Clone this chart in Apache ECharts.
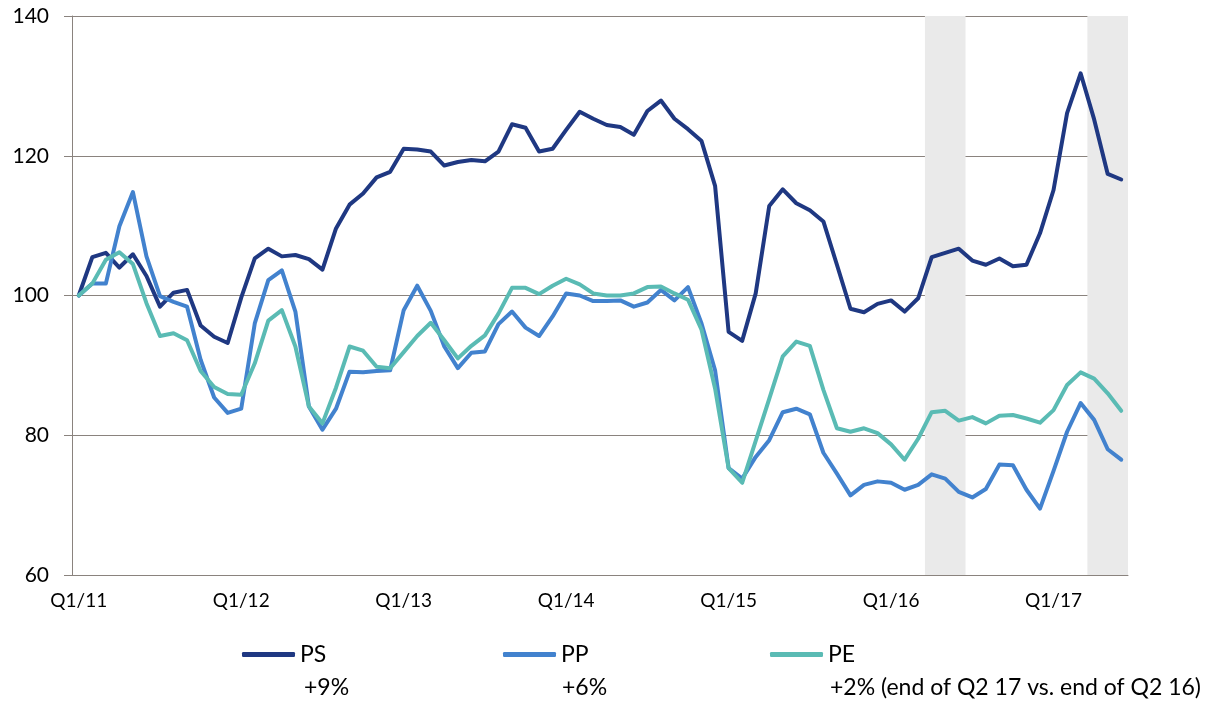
<!DOCTYPE html>
<html>
<head>
<meta charset="utf-8">
<script src="https://cdn.jsdelivr.net/npm/echarts@6/dist/echarts.min.js"></script>
<style>
  html, body { margin: 0; padding: 0; background: #fff; }
  #chart { width: 1216px; height: 703px; }
</style>
</head>
<body>
<div id="chart"></div>
<script>
// monthly index, Jan 2011 = 100 (Jan 2011 .. Jun 2017)
var months = [];
for (var y = 2011; y <= 2017; y++) {
  for (var m = 1; m <= 12; m++) {
    if (y === 2017 && m > 6) break;
    months.push(y + '-' + (m < 10 ? '0' + m : m));
  }
}

var seriesNames = ['PS', 'PP', 'PE'];
var seriesColors = ['#1f3882', '#4282ce', '#5abbb4'];

var ps = [100, 105.5, 106.1, 104.0, 105.9, 102.8, 98.4, 100.4, 100.8, 95.7, 94.1, 93.2,
  99.7, 105.3, 106.7, 105.6, 105.8, 105.2, 103.7, 109.6, 113.0, 114.6, 116.9, 117.7,
  121.0, 120.9, 120.6, 118.6, 119.1, 119.4, 119.2, 120.6, 124.5, 124.0, 120.6, 121.0,
  123.7, 126.3, 125.3, 124.4, 124.1, 123.0, 126.4, 127.9, 125.3, 123.8, 122.1, 115.7,
  94.8, 93.5, 100.3, 112.8, 115.2, 113.2, 112.2, 110.6, 104.4, 98.1, 97.6, 98.8,
  99.3, 97.7, 99.6, 105.5, 106.1, 106.7, 105.0, 104.4, 105.3, 104.2, 104.4, 108.9,
  115.1, 126.1, 131.8, 125.2, 117.4, 116.6];

var pp = [100, 101.7, 101.7, 109.9, 114.8, 105.6, 99.9, 99.1, 98.4, 90.8, 85.4, 83.2,
  83.8, 96.0, 102.2, 103.6, 97.7, 84.1, 80.8, 83.8, 89.1, 89.0, 89.2, 89.3,
  97.9, 101.4, 97.8, 92.7, 89.6, 91.8, 92.0, 95.9, 97.7, 95.4, 94.2, 97.0,
  100.3, 100.0, 99.2, 99.2, 99.3, 98.4, 99.0, 100.8, 99.3, 101.2, 96.0, 89.3,
  75.3, 73.8, 76.9, 79.3, 83.3, 83.8, 83.0, 77.5, 74.5, 71.4, 72.9, 73.4,
  73.2, 72.2, 72.9, 74.4, 73.8, 71.9, 71.1, 72.3, 75.8, 75.7, 72.2, 69.5,
  74.9, 80.5, 84.6, 82.2, 78.0, 76.5];

var pe = [100, 101.7, 105.1, 106.2, 104.5, 98.9, 94.2, 94.6, 93.6, 89.2, 86.9, 85.9,
  85.8, 90.3, 96.4, 97.9, 92.7, 84.1, 81.7, 86.8, 92.7, 92.1, 89.8, 89.6,
  91.9, 94.2, 96.1, 93.6, 91.0, 92.8, 94.3, 97.4, 101.1, 101.1, 100.2, 101.4,
  102.4, 101.6, 100.3, 100.0, 100.0, 100.3, 101.2, 101.3, 100.3, 99.4, 95.1, 86.7,
  75.3, 73.2, 79.2, 85.2, 91.3, 93.4, 92.8, 86.5, 81.0, 80.5, 81.0, 80.3,
  78.7, 76.5, 79.5, 83.3, 83.5, 82.1, 82.6, 81.7, 82.8, 82.9, 82.4, 81.8,
  83.6, 87.2, 89.0, 88.1, 86.0, 83.5];

// change end of Q2 17 vs end of Q2 16
var changeLabels = ['+9%', '+6%', '+2% (end of Q2 17 vs. end of Q2 16)'];

// shaded quarters (Q2 16, Q2 17): first and last month
var shadedQuarters = [['2016-04', '2016-06'], ['2017-04', '2017-06']];

var yTicks = { min: 60, max: 140, step: 20 };

var font = 'Lato, "DejaVu Sans", sans-serif';
var gridColor = '#8a837e';
var legendLefts = [242, 503, 770];
var changeLefts = [304, 562, 830];

var chart = echarts.init(document.getElementById('chart'));

var series = [ps, pp, pe].map(function (vals, i) {
  return {
    name: seriesNames[i],
    type: 'line',
    data: vals,
    symbol: 'none',
    z: 3,
    lineStyle: { width: 4, color: seriesColors[i], join: 'round', cap: 'round' },
    itemStyle: { color: seriesColors[i] }
  };
});

// shading on a hidden month-position axis (band edges)
series.push({
  type: 'line',
  xAxisIndex: 1,
  data: [],
  z: 1,
  silent: true,
  markArea: {
    silent: true,
    itemStyle: { color: '#eaeaea' },
    data: shadedQuarters.map(function (q) {
      return [{ xAxis: months.indexOf(q[0]) }, { xAxis: months.indexOf(q[1]) + 1 }];
    })
  }
});

chart.setOption({
  animation: false,
  grid: { left: 72, right: 88, top: 16, bottom: 128 },
  legend: seriesNames.map(function (name, i) {
    return {
      data: [name],
      left: legendLefts[i],
      top: 643,
      padding: 0,
      icon: 'roundRect',
      itemWidth: 53,
      itemHeight: 5,
      selectedMode: false,
      textStyle: { fontSize: 23, fontFamily: font, color: '#000' }
    };
  }),
  graphic: changeLabels.map(function (t, i) {
    return {
      type: 'text',
      left: changeLefts[i],
      top: 676,
      style: { text: t, font: '23px ' + font, fill: '#000' }
    };
  }),
  xAxis: [{
    type: 'category',
    data: months,
    boundaryGap: true,
    axisLine: { lineStyle: { color: gridColor, width: 1 } },
    axisTick: { interval: 2, length: 6, lineStyle: { color: gridColor } },
    axisLabel: {
      interval: 11,
      margin: 16,
      fontSize: 19,
      fontFamily: font,
      color: '#000',
      formatter: function (v) {
        var p = v.split('-');
        return p[1] === '01' ? 'Q1/' + p[0].slice(2) : '';
      }
    },
    splitLine: { show: false }
  }, {
    type: 'value',
    min: 0,
    max: months.length,
    show: false
  }],
  yAxis: {
    type: 'value',
    min: yTicks.min,
    max: yTicks.max,
    interval: yTicks.step,
    axisLine: { show: true, lineStyle: { color: gridColor } },
    axisTick: { show: true, length: 8, lineStyle: { color: gridColor } },
    axisLabel: { margin: 23, fontSize: 21, fontFamily: font, color: '#000' },
    splitLine: { lineStyle: { color: gridColor, width: 1 } }
  },
  series: series
});
</script>
</body>
</html>
